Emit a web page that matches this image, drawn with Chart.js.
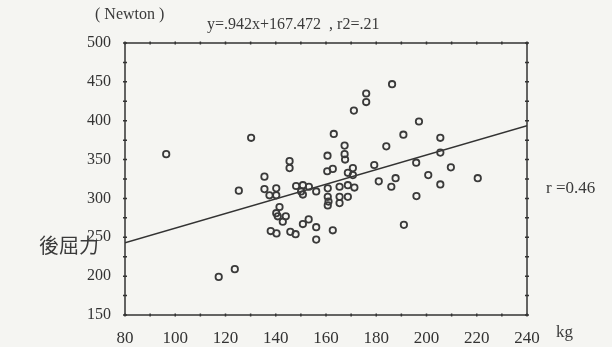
<!DOCTYPE html>
<html>
<head>
<meta charset="utf-8">
<script src="https://cdn.jsdelivr.net/npm/chart.js@4/dist/chart.umd.min.js"></script>
<style>
  html, body { margin: 0; padding: 0; background: #f5f5f2; }
  #wrap { width: 612px; height: 347px; }
</style>
</head>
<body>
<div id="wrap"><canvas id="chart" width="612" height="347"></canvas></div>
<script>
// body weight (kg) vs back-bend force (Newton)
const weightKg = [
  96.4, 117.3, 123.7, 125.3, 130.2, 135.5, 135.5, 137.5, 140.2, 140.2,
  145.5, 145.5, 148.1, 150.8, 153.2, 150.1, 150.8, 156.1, 160.6, 160.5,
  162.7, 163.1, 167.4, 167.4, 167.6, 168.7, 170.7, 171.1, 176.0, 176.0,
  179.2, 184.0, 186.3, 190.8, 195.9, 197.0, 200.7, 205.5, 205.5, 209.7,
  220.4, 181.0, 187.7, 186.0, 205.5, 196.0, 191.0, 160.7, 160.7, 161.0,
  160.7, 165.4, 168.7, 171.3, 165.4, 165.4, 168.7, 141.5, 140.2, 140.8,
  144.0, 142.8, 150.8, 153.1, 156.1, 162.7, 156.1, 138.0, 140.3, 145.8,
  147.9, 170.7
];
const forceN = [
  357, 199, 209, 310, 378, 328, 312, 304, 313, 304,
  348, 339, 316, 317, 315, 309, 305, 309, 355, 335,
  338, 383, 368, 357, 350, 333, 339, 413, 435, 424,
  343, 367, 447, 382, 346, 399, 330, 378, 359, 340,
  326, 322, 326, 315, 318, 303, 266, 313, 302, 296,
  291, 315, 317, 314, 302, 294, 302, 289, 281, 277,
  277, 270, 267, 273, 263, 259, 247, 258, 255, 257,
  254, 330
];

// regression from the chart: y = .942x + 167.472
const slope = 0.942;
const intercept = 167.472;
const lineX = [80, 240];

const xRange = [80, 240];
const yRange = [150, 500];

const ink = "#333";
const serif = "'Liberation Serif', 'DejaVu Serif', serif";

// box frame with small ticks on all four sides
const framePlugin = {
  id: "frame",
  beforeDraw(chart) {
    const ctx = chart.ctx;
    ctx.save();
    ctx.fillStyle = "#f5f5f2";
    ctx.fillRect(0, 0, chart.width, chart.height);
    ctx.restore();
  },
  afterDraw(chart) {
    const { ctx, chartArea: a, scales } = chart;
    ctx.save();
    ctx.strokeStyle = ink;
    ctx.lineWidth = 1.5;
    ctx.strokeRect(a.left, a.top, a.right - a.left, a.bottom - a.top);

    for (let v = xRange[0]; v <= xRange[1]; v += 10) {
      const px = scales.x.getPixelForValue(v);
      ctx.beginPath();
      ctx.moveTo(px, a.bottom + 1.5); ctx.lineTo(px, a.bottom - 1.5);
      ctx.moveTo(px, a.top - 1.5); ctx.lineTo(px, a.top + 1.5);
      ctx.stroke();
    }
    for (let v = yRange[0]; v <= yRange[1]; v += 25) {
      const py = scales.y.getPixelForValue(v);
      ctx.beginPath();
      ctx.moveTo(a.left - 2, py); ctx.lineTo(a.left + 2, py);
      ctx.moveTo(a.right + 2, py); ctx.lineTo(a.right - 2, py);
      ctx.stroke();
    }

    // annotations
    ctx.fillStyle = "#3a3a3a";
    ctx.textBaseline = "middle";
    ctx.textAlign = "left";
    ctx.font = "16px " + serif;
    ctx.fillText("( Newton )", 95, 15);
    ctx.fillText("y=.942x+167.472  , r2=.21", 207, 25);
    ctx.font = "17px " + serif;
    ctx.fillText("r =0.46", 546, 189);
    ctx.fillText("kg", 556, 333);
    ctx.font = "20px 'Noto Sans CJK TC', sans-serif";
    ctx.fillText("後屈力", 39, 245);
    ctx.restore();
  }
};

const ctx = document.getElementById("chart").getContext("2d");
new Chart(ctx, {
  type: "scatter",
  data: {
    datasets: [
      {
        label: "data",
        data: weightKg.map((v, i) => ({ x: v, y: forceN[i] })),
        pointStyle: "circle",
        pointRadius: 3.2,
        pointBorderWidth: 1.8,
        pointBorderColor: "#3a3a3a",
        pointBackgroundColor: "rgba(255,255,255,0)"
      },
      {
        label: "fit",
        type: "line",
        data: lineX.map(v => ({ x: v, y: slope * v + intercept })),
        borderColor: ink,
        borderWidth: 1.5,
        pointRadius: 0
      }
    ]
  },
  options: {
    responsive: false,
    animation: false,
    devicePixelRatio: 1,
    layout: { padding: { top: 43, right: 85, left: 0, bottom: 0 } },
    plugins: { legend: { display: false }, tooltip: { enabled: false } },
    scales: {
      x: {
        type: "linear",
        min: xRange[0], max: xRange[1],
        grid: { display: false },
        border: { display: false },
        ticks: { stepSize: 20, padding: 5, color: "#333", font: { family: serif, size: 17 } },
        afterFit(scale) { scale.height = 32; }
      },
      y: {
        min: yRange[0], max: yRange[1],
        grid: { display: false },
        border: { display: false },
        ticks: { stepSize: 50, padding: 6, color: "#333", font: { family: serif, size: 16 } },
        afterFit(scale) { scale.width = 125; }
      }
    }
  },
  plugins: [framePlugin]
});
</script>
</body>
</html>
